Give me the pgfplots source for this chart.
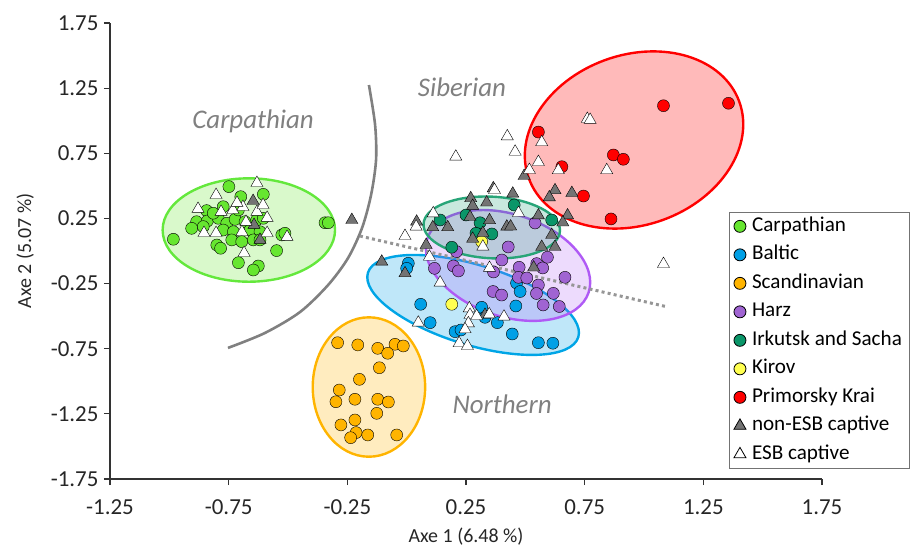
\documentclass[border=0pt]{standalone}
\usepackage{fontspec}
\setmainfont{Carlito}
\usepackage{pgfplots}
\pgfplotsset{compat=1.18}
\definecolor{cgreen}{RGB}{102,230,48}
\definecolor{cgreenE}{RGB}{100,232,60}
\definecolor{cblue}{RGB}{0,160,230}
\definecolor{cblueE}{RGB}{0,165,230}
\definecolor{corange}{RGB}{255,180,0}
\definecolor{cpurple}{RGB}{160,100,210}
\definecolor{cpurpleE}{RGB}{175,90,245}
\definecolor{cteal}{RGB}{10,150,105}
\definecolor{ctealE}{RGB}{40,165,120}
\definecolor{cyellow}{RGB}{255,255,80}
\definecolor{cred}{RGB}{255,0,0}
\definecolor{cgrey}{RGB}{115,115,115}
\definecolor{cann}{RGB}{128,128,128}
\definecolor{cdot}{RGB}{150,150,150}
\newcommand{\lgsp}[1]{\hspace{4bp}#1}
\begin{document}
\begin{tikzpicture}
\useasboundingbox (0,0) rectangle (911bp,548bp);
\begin{axis}[
  at={(110bp,69bp)}, anchor=south west,
  scale only axis, width=712bp, height=456bp,
  xmin=-1.25, xmax=1.75, ymin=-1.75, ymax=1.75,
  clip=false,
  axis x line*=bottom, axis y line*=left,
  axis line style={black!80, line width=1.1bp},
  xtick={-1.25,-0.75,-0.25,0.25,0.75,1.25,1.75},
  xticklabels={-1.25,-0.75,-0.25,0.25,0.75,1.25,1.75},
  ytick={-1.75,-1.25,-0.75,-0.25,0.25,0.75,1.25,1.75},
  yticklabels={-1.75,-1.25,-0.75,-0.25,0.25,0.75,1.25,1.75},
  tick align=outside, major tick length=6bp,
  tick style={black!80, line width=1.1bp},
  xticklabel style={font=\fontsize{23}{27}\selectfont, text=black!85, yshift=-11bp},
  yticklabel style={font=\fontsize{23}{27}\selectfont, text=black!85, xshift=-2bp},
  xlabel={Axe 1 (6.48 \%)}, ylabel={Axe 2 (5.07 \%)},
  label style={font=\fontsize{20}{24}\selectfont, text=black!85},
  xlabel style={at={(axis description cs:0.5,-0.127)}, anchor=center},
  ylabel style={at={(axis description cs:-0.119,0.5)}, anchor=center},
  legend style={at={(axis description cs:1.1226,0.5862)}, anchor=north east,
    draw=black!55, line width=0.8bp, font=\fontsize{21.2}{25}\selectfont,
    inner xsep=5bp, inner ysep=5bp, row sep=10bp, column sep=0bp,
    nodes={inner xsep=2bp, inner ysep=0pt, text height=14bp, text depth=4.5bp}},
  legend cell align=left,
]
% ellipses
\draw[draw=cgreenE, line width=2.4bp, fill=cgreen, fill opacity=0.25] (axis cs:-0.665,0.161) ellipse [x radius=86.2bp, y radius=51.7bp];
\draw[draw=corange, line width=2.4bp, fill=corange, fill opacity=0.25] (axis cs:-0.159,-1.044) ellipse [x radius=56.2bp, y radius=69.7bp];
\draw[draw=cblueE, line width=2.4bp, fill=cblue, fill opacity=0.25, rotate around={-17:(axis cs:0.280,-0.414)}] (axis cs:0.280,-0.414) ellipse [x radius=110bp, y radius=40bp];
\draw[draw=cpurpleE, line width=2.4bp, fill=cpurpleE, fill opacity=0.22, rotate around={-18.6:(axis cs:0.427,-0.111)}] (axis cs:0.427,-0.111) ellipse [x radius=85bp, y radius=51bp];
\draw[draw=ctealE, line width=2.4bp, fill=cteal, fill opacity=0.22, rotate around={-3:(axis cs:0.3585,0.1805)}] (axis cs:0.3585,0.1805) ellipse [x radius=68.3bp, y radius=30.8bp];
\draw[draw=cred, line width=2.4bp, fill=cred, fill opacity=0.27, rotate around={20:(axis cs:0.958,0.852)}] (axis cs:0.958,0.852) ellipse [x radius=112bp, y radius=85bp];
% separating curve and dotted line
\addplot[no marks, smooth, draw=cann, line width=2.6bp, forget plot] coordinates {
(-0.159,1.274) (-0.133,0.967) (-0.129,0.699) (-0.150,0.430) (-0.188,0.177) (-0.247,-0.054) (-0.331,-0.261) (-0.449,-0.468) (-0.597,-0.629) (-0.753,-0.744)};
\addplot[no marks, sharp plot, draw=cdot, line width=3bp, dash pattern=on 3bp off 3.2bp, forget plot] coordinates {(-0.197,0.115) (1.101,-0.430)};
\pgfplotsset{every axis plot/.append style={only marks, mark options={draw=black!80, line width=0.6bp}}}
% Carpathian
\addplot[mark=*, mark size=6bp, mark options={fill=cgreen}] coordinates {
(-0.749,0.494) (-0.699,0.417) (-0.604,0.435) (-0.843,0.310) (-0.773,0.340) (-0.885,0.225) (-0.840,0.230) (-0.906,0.174) (-0.794,0.251) (-0.758,0.213) (-0.723,0.243) (-0.681,0.225) (-0.632,0.238) (-0.604,0.251) (-0.773,0.161) (-0.730,0.148) (-0.660,0.161) (-0.618,0.148) (-0.737,0.085) (-0.695,0.072) (-0.646,0.085) (-0.983,0.090) (-0.800,0.046) (-0.784,0.021) (-0.618,0.085) (-0.526,0.123) (-0.513,0.136) (-0.548,0.003) (-0.709,-0.090) (-0.625,-0.115) (-0.646,-0.146) (-0.344,0.217) (-0.330,0.217) (-0.815,0.290) (-0.857,0.187) (-0.709,0.315)};
\addlegendentry{\lgsp{Carpathian}}
% Baltic
\addplot[mark=*, mark size=6bp, mark options={fill=cblue}] coordinates {
(0.007,-0.094) (0.000,-0.133) (0.059,-0.409) (0.099,-0.550) (0.204,-0.619) (0.229,-0.606) (0.316,-0.432) (0.330,-0.509) (0.382,-0.550) (0.460,-0.422) (0.445,-0.637) (0.555,-0.704) (0.616,-0.708) (0.463,-0.246) (0.478,-0.311)};
\addlegendentry{\lgsp{Baltic}}
% Scandinavian
\addplot[mark=*, mark size=6bp, mark options={fill=corange}] coordinates {
(-0.291,-0.704) (-0.206,-0.721) (-0.122,-0.747) (-0.049,-0.716) (-0.014,-0.729) (-0.080,-0.785) (-0.115,-0.896) (-0.199,-0.985) (-0.284,-1.067) (-0.298,-1.157) (-0.218,-1.138) (-0.122,-1.138) (-0.077,-1.159) (-0.126,-1.246) (-0.218,-1.297) (-0.277,-1.335) (-0.213,-1.394) (-0.236,-1.433) (-0.164,-1.412) (-0.042,-1.412)};
\addlegendentry{\lgsp{Scandinavian}}
% Harz
\addplot[mark=*, mark size=6bp, mark options={fill=cpurple}] coordinates {
(0.541,0.215) (0.428,0.031) (0.210,-0.005) (0.117,-0.133) (0.197,-0.115) (0.218,-0.153) (0.401,-0.069) (0.366,-0.161) (0.474,-0.125) (0.548,-0.097) (0.573,-0.130) (0.593,-0.048) (0.667,-0.202) (0.471,-0.202) (0.506,-0.207) (0.555,-0.261) (0.547,-0.326) (0.618,-0.325) (0.364,-0.311) (0.400,-0.338) (0.575,-0.414) (0.643,-0.426)};
\addlegendentry{\lgsp{Harz}}
% Irkutsk and Sacha
\addplot[mark=*, mark size=6bp, mark options={fill=cteal}] coordinates {
(0.453,0.353) (0.250,0.276) (0.309,0.217) (0.359,0.131) (0.292,0.136) (0.190,0.029) (0.611,0.238) (0.141,0.238)};
\addlegendentry{\lgsp{Irkutsk and Sacha}}
% Kirov
\addplot[mark=*, mark size=6bp, mark options={fill=cyellow}] coordinates {(0.316,0.072) (0.190,-0.409)};
\addlegendentry{\lgsp{Kirov}}
% Primorsky Krai
\addplot[mark=*, mark size=6bp, mark options={fill=cred}] coordinates {
(1.082,1.115) (1.356,1.134) (0.555,0.913) (0.871,0.737) (0.913,0.704) (0.654,0.647) (0.745,0.422) (0.861,0.246)};
\addlegendentry{\lgsp{Primorsky Krai}}
% non-ESB captive
\addplot[mark=triangle*, mark size=7bp, mark options={fill=cgrey}] coordinates {
(-0.647,0.384) (-0.643,0.200) (-0.618,0.085) (-0.231,0.238) (-0.105,-0.082) (-0.007,-0.171) (0.082,0.046) (0.042,0.225) (0.110,0.182) (0.173,0.182) (0.270,0.405) (0.337,0.372) (0.278,0.346) (0.267,0.261) (0.365,0.481) (0.447,0.440) (0.349,0.236) (0.422,0.187) (0.438,0.188) (0.321,0.138) (0.278,0.094) (0.555,0.273) (0.678,0.273) (0.658,0.219) (0.611,0.123) (0.569,0.031) (0.625,0.031) (0.535,-0.127) (0.495,0.576) (0.625,0.466) (0.601,0.412) (0.696,0.445) (0.330,-0.491)};
\addlegendentry{\lgsp{non-ESB captive}}
% ESB captive
\addplot[mark=triangle*, mark size=7bp, mark options={fill=white}] coordinates {
(-0.631,0.522) (-0.803,0.430) (-0.879,0.323) (-0.782,0.300) (-0.732,0.315) (-0.690,0.338) (-0.715,0.369) (-0.631,0.300) (-0.605,0.353) (-0.588,0.254) (-0.677,0.223) (-0.694,0.146) (-0.588,0.138) (-0.504,0.108) (-0.803,0.138) (-0.854,0.138) (-0.685,-0.015)
(0.207,0.724) (0.457,0.762) (0.424,0.880) (0.569,0.835) (0.761,1.013) (0.773,1.006) (0.555,0.683) (0.517,0.622) (0.639,0.620) (0.843,0.620) (0.471,0.292) (0.370,0.468) (0.112,0.289) (0.040,0.187) (-0.007,0.115) (0.321,0.033) (0.096,-0.044) (0.349,-0.130) (0.141,-0.243) (1.082,-0.100) (0.264,-0.440) (0.267,-0.491) (0.295,-0.499) (0.348,-0.486) (0.410,-0.504) (0.049,-0.550) (0.260,-0.555) (0.246,-0.601) (0.221,-0.708) (0.256,-0.729)};
\addlegendentry{\lgsp{ESB captive}}
% group labels
\node[font=\fontsize{27}{30}\selectfont\itshape, text=cann] at (axis cs:-0.647,0.998) {Carpathian};
\node[font=\fontsize{27}{30}\selectfont\itshape, text=cann] at (axis cs:0.233,1.259) {Siberian};
\node[font=\fontsize{27}{30}\selectfont\itshape, text=cann] at (axis cs:0.402,-1.174) {Northern};
\end{axis}
\end{tikzpicture}
\end{document}
